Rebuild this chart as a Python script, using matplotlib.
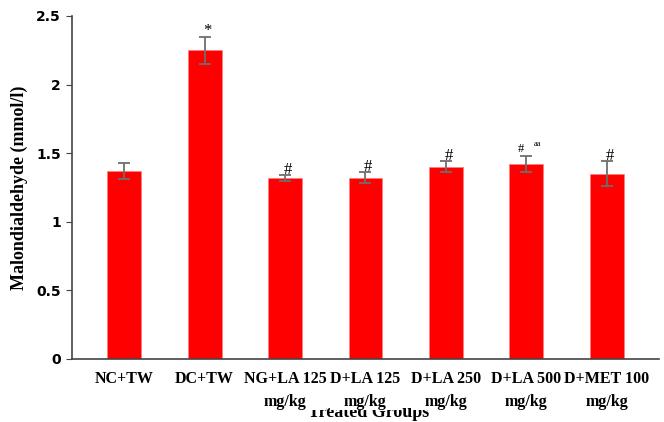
import matplotlib.pyplot as plt
import numpy as np

# data
groups = ['NC+TW', 'DC+TW', 'NG+LA 125\nmg/kg', 'D+LA 125\nmg/kg',
          'D+LA 250\nmg/kg', 'D+LA 500\nmg/kg', 'D+MET 100\nmg/kg']
mda = [1.37, 2.25, 1.32, 1.32, 1.40, 1.42, 1.35]
err = [0.06, 0.10, 0.02, 0.04, 0.04, 0.06, 0.09]
marks = ['', '*', '#', '#', '#', '#', '#']
yticks = [0, 0.5, 1, 1.5, 2, 2.5]
ytick_labels = ['0', '0.5', '1', '1.5', '2', '2.5']

serif = 'Liberation Serif'
sans = 'DejaVu Sans'

fig = plt.figure(figsize=(6.64, 4.22), dpi=100)
ax = fig.add_axes([0.1084, 0.1493, 0.884, 0.8128])

x = np.arange(len(groups))
ax.bar(x, mda, width=0.42, color='#ff0000', edgecolor='#ff8080', linewidth=0.6, zorder=2)
ax.errorbar(x, mda, yerr=err, fmt='none', ecolor='#6e6e6e', elinewidth=1.3,
            capsize=4, capthick=1.3, zorder=3)

# significance marks above the error bars
for i in range(len(groups)):
    if marks[i] == '':
        continue
    top = mda[i] + err[i]
    if i == 5:
        ax.annotate('#', (x[i], top), xytext=(-6, 1), textcoords='offset points',
                    ha='left', va='bottom', fontsize=9, family=serif)
        ax.annotate('aa', (x[i], top), xytext=(8, 6), textcoords='offset points',
                    ha='center', va='bottom', fontsize=6, family=serif)
    else:
        ax.annotate(marks[i], (x[i], top), xytext=(2, -2), textcoords='offset points',
                    ha='center', va='bottom', fontsize=12, family=serif)

ax.set_xlim(-0.65, len(groups) - 0.35)
ax.set_ylim(0, 2.5)
ax.set_yticks(yticks)
ax.set_yticklabels(ytick_labels, fontsize=10, fontweight='bold', family=sans)
ax.set_xticks(x)
ax.set_xticklabels(groups, fontsize=11.5, fontweight='bold', family=serif,
                   linespacing=1.55)
for lab in ax.get_xticklabels():
    lab.set_bbox(dict(facecolor='white', edgecolor='none', pad=0))
ax.tick_params(axis='x', length=0, pad=9)
ax.tick_params(axis='y', length=4, direction='out', color='#444444', pad=4)

for s in ['top', 'right']:
    ax.spines[s].set_visible(False)
for s in ['left', 'bottom']:
    ax.spines[s].set_color('#444444')
    ax.spines[s].set_linewidth(1.2)

ax.set_ylabel('Malondialdehyde (mmol/l)', fontsize=13, fontweight='bold',
              family=serif, labelpad=6)
# x label sits partly behind the two-line tick labels, as in the original
fig.text(0.555, 0.012, 'Treated Groups', ha='center', va='baseline', fontsize=13,
         fontweight='bold', family=serif, zorder=-1)

plt.savefig('out.png', dpi=100)
